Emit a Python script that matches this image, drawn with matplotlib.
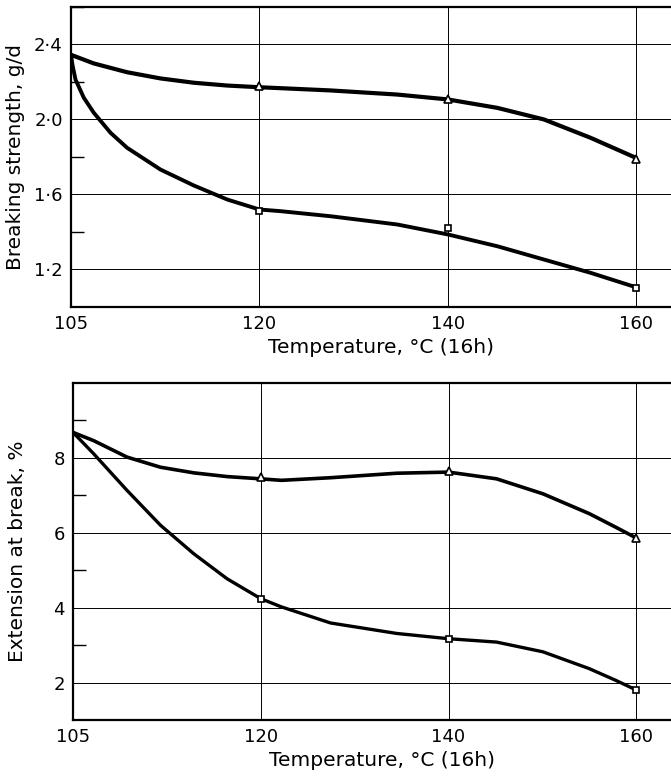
# Breaking strength and extension at break vs treatment temperature
import numpy as np
import matplotlib.pyplot as plt
from matplotlib.ticker import FixedLocator

# x axis in the original is spaced evenly per tick, not per degree
temps = ['105', '120', '140', '160']
temp_pos = list(range(len(temps)))

# measured points (open triangles / open squares) at 120, 140, 160
bs_tri = [2.18, 2.11, 1.79]
bs_sq = [1.51, 1.42, 1.10]
ext_tri = [7.50, 7.64, 5.87]
ext_sq = [4.22, 3.17, 1.81]

# hand drawn curves (x in tick-position units)
bs_tri_cx = [0, 0.121, 0.298, 0.475, 0.652, 0.830, 1.0, 1.113, 1.378, 1.732, 2.0, 2.263, 2.511, 2.759, 3.0]
bs_tri_cy = [2.345, 2.299, 2.252, 2.219, 2.196, 2.181, 2.172, 2.167, 2.155, 2.133, 2.107, 2.062, 2.0, 1.902, 1.795]
bs_sq_cx = [0, 0.008, 0.024, 0.068, 0.121, 0.210, 0.298, 0.475, 0.652, 0.830, 1.0, 1.113, 1.378, 1.732, 2.0,
            2.263, 2.511, 2.759, 3.0]
bs_sq_cy = [2.345, 2.29, 2.213, 2.116, 2.036, 1.929, 1.849, 1.733, 1.648, 1.573, 1.52, 1.511, 1.484, 1.44, 1.387,
            1.324, 1.253, 1.182, 1.105]

ext_tri_cx = [0, 0.110, 0.288, 0.466, 0.643, 0.821, 1.0, 1.11, 1.372, 1.725, 2.0, 2.256, 2.503, 2.75, 2.89, 3.0]
ext_tri_cy = [8.68, 8.46, 8.02, 7.75, 7.60, 7.50, 7.44, 7.40, 7.47, 7.59, 7.62, 7.44, 7.04, 6.51, 6.15, 5.86]
ext_sq_cx = [0, 0.110, 0.199, 0.288, 0.466, 0.643, 0.821, 1.0, 1.11, 1.372, 1.725, 2.0, 2.256, 2.503, 2.75, 2.89, 3.0]
ext_sq_cy = [8.68, 8.11, 7.62, 7.13, 6.20, 5.44, 4.77, 4.24, 4.02, 3.59, 3.31, 3.17, 3.08, 2.82, 2.37, 2.06, 1.80]

bs_major = [1.2, 1.6, 2.0, 2.4]
bs_minor = [1.4, 1.8, 2.2, 2.6]
bs_labels = ['1·2', '1·6', '2·0', '2·4']
ext_major = [2, 4, 6, 8]
ext_minor = [3, 5, 7, 9]
ext_labels = ['2', '4', '6', '8']

plt.rcParams['font.family'] = 'DejaVu Sans'
fig = plt.figure(figsize=(6.71, 7.77), dpi=100)
ax1 = fig.add_axes([0.1058, 0.6049, 0.8942, 0.3861])
ax2 = fig.add_axes([0.1088, 0.0734, 0.8912, 0.4337])


def style_axis(ax, ylim, major, minor, labels, ylabel):
    ax.set_xlim(0, 3.185)
    ax.set_ylim(*ylim)
    ax.xaxis.set_major_locator(FixedLocator(temp_pos))
    ax.set_xticklabels(temps)
    ax.yaxis.set_major_locator(FixedLocator(major))
    ax.yaxis.set_minor_locator(FixedLocator(minor))
    ax.set_yticklabels(labels)
    ax.tick_params(axis='both', which='major', length=0, labelsize=13, pad=6)
    ax.tick_params(axis='y', which='minor', length=9, width=1.0, direction='in')
    # grid lines on the labelled positions
    for p in temp_pos[1:]:
        ax.axvline(p, color='black', lw=0.7, zorder=1)
    for v in major:
        ax.axhline(v, color='black', lw=0.7, zorder=1)
    ax.spines['right'].set_visible(False)
    for s in ['left', 'top', 'bottom']:
        ax.spines[s].set_linewidth(1.6)
    ax.set_xlabel('Temperature, °C (16h)', fontsize=14.5)
    ax.xaxis.set_label_coords(0.517, -0.105 * 0.3861 / ax.get_position().height)
    ax.set_ylabel(ylabel, fontsize=14.5)
    ax.yaxis.set_label_coords(-0.077, 0.5)


style_axis(ax1, (1.0, 2.6), bs_major, bs_minor, bs_labels, 'Breaking strength, g/d')
ax1.plot(bs_tri_cx, bs_tri_cy, color='black', lw=3.0, solid_capstyle='round', zorder=3)
ax1.plot(bs_sq_cx, bs_sq_cy, color='black', lw=2.8, solid_capstyle='round', zorder=3)
ax1.plot(temp_pos[1:], bs_tri, ls='none', marker='^', ms=6, mfc='white', mec='black', mew=1.2, zorder=4)
ax1.plot(temp_pos[1:], bs_sq, ls='none', marker='s', ms=5, mfc='white', mec='black', mew=1.2, zorder=4)

style_axis(ax2, (1.0, 10.0), ext_major, ext_minor, ext_labels, 'Extension at break, %')
ax2.plot(ext_tri_cx, ext_tri_cy, color='black', lw=2.6, solid_capstyle='round', zorder=3)
ax2.plot(ext_sq_cx, ext_sq_cy, color='black', lw=2.4, solid_capstyle='round', zorder=3)
ax2.plot(temp_pos[1:], ext_tri, ls='none', marker='^', ms=6, mfc='white', mec='black', mew=1.2, zorder=4)
ax2.plot(temp_pos[1:], ext_sq, ls='none', marker='s', ms=5, mfc='white', mec='black', mew=1.2, zorder=4)

fig.savefig('out.png', dpi=100)
